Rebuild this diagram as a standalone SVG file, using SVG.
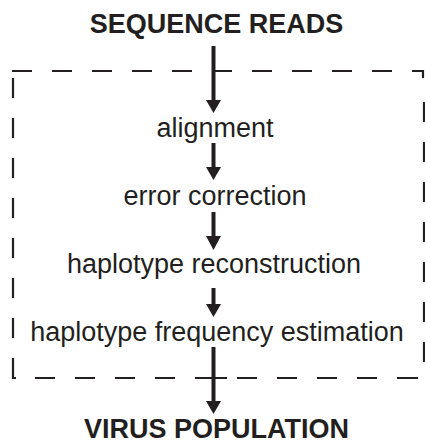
<svg xmlns="http://www.w3.org/2000/svg" width="425" height="444" viewBox="0 0 425 444">
<style>
.t{font-family:"Liberation Sans",Arial,sans-serif;fill:#231f20;text-anchor:middle}
.title{font-size:27px;font-weight:bold}
.lbl{font-size:27px}
.d{stroke:#231f20;stroke-width:2.2;fill:none}
.sh{stroke:#231f20;stroke-width:4;fill:none}
.hd{fill:#231f20}
</style>
<rect width="425" height="444" fill="#ffffff"/>
<g id="pipeline-box">
<path class="d" d="M12,71H32M52,71H72M92,71H112M132,71H152M172,71H192M212,71H232M252,71H272M292,71H312M332,71H352M372,71H392M412,71H423V78"/>
<path class="d" d="M13,78V98M13,118V138M13,158V178M13,198V218M13,238V258M13,278V298M13,318V338M13,358V378H16"/>
<path class="d" d="M35,378H55M75,378H95M115,378H135M155,378H175M195,378H227M237,378H257M277,378H297M317,378H337M357,378H377M397,378H418"/>
<path class="d" d="M424,102V122M424,142V162M424,182V202M424,222V242M424,262V282M424,302V322M424,342V362"/>
</g>
<g id="connectors">
<path class="sh" d="M213.5,46V101"/><polygon class="hd" points="206,100 221,100 213.5,113"/>
<path class="sh" d="M213.5,143V168"/><polygon class="hd" points="206,167 221,167 213.5,180"/>
<path class="sh" d="M213.5,212V237"/><polygon class="hd" points="206,236 221,236 213.5,250"/>
<path class="sh" d="M213.5,288V305"/><polygon class="hd" points="206,304 221,304 213.5,317"/>
<path class="sh" d="M213.5,347V402"/><polygon class="hd" points="206,401 221,401 213.5,414"/>
</g>
<g id="sequence-reads"><text class="t title" x="216.5" y="33">SEQUENCE READS</text></g>
<g id="alignment"><text class="t lbl" x="215" y="137">alignment</text></g>
<g id="error-correction"><text class="t lbl" x="215" y="205">error correction</text></g>
<g id="haplotype-reconstruction"><text class="t lbl" x="214" y="273">haplotype reconstruction</text></g>
<g id="haplotype-frequency-estimation"><text class="t lbl" x="217" y="341">haplotype frequency estimation</text></g>
<g id="virus-population"><text class="t title" x="216.5" y="438">VIRUS POPULATION</text></g>
</svg>
